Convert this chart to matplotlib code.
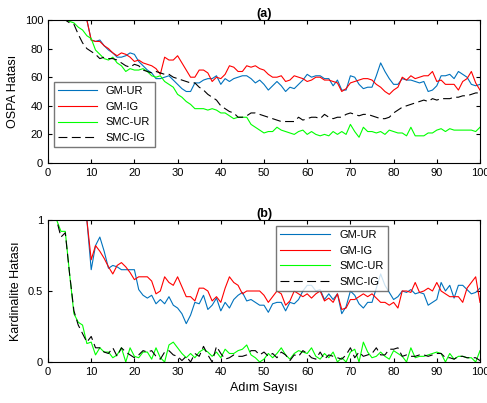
import numpy as np
import matplotlib.pyplot as plt

plt.rcParams['font.family'] = ['Liberation Sans', 'DejaVu Sans']
plt.rcParams['font.size'] = 8

steps = np.arange(0, 101)

# (a) OSPA
a_gm_ur = [100]*10 + [86,85,86,82,79,77,74,74,75,77,76,71,68,65,63,59,59,60,61,58,55,52,50,50,56,56,58,59,59,61,
    55,59,57,59,60,61,61,59,56,58,55,51,54,57,54,50,53,52,55,58,62,60,61,61,59,59,54,58,51,51,
    61,60,55,52,53,53,61,70,64,59,55,55,59,58,58,57,56,57,50,51,54,61,61,62,59,64,62,60,55,54,55]
a_gm_ig = [100]*10 + [86,85,85,82,80,77,75,77,76,74,71,72,70,69,68,66,62,74,72,72,75,70,65,60,60,65,65,63,57,60,
    59,62,68,67,64,64,68,67,68,66,65,62,60,60,61,57,58,61,60,59,57,58,60,60,58,58,57,56,50,52,
    56,57,58,59,59,58,55,53,50,48,51,53,60,58,61,59,60,61,61,64,57,58,55,55,55,51,57,59,64,56,51]
a_smc_ur = [100]*5 + [99,98,95,93,89,87,79,76,73,72,74,70,68,64,66,65,65,66,64,61,60,61,57,55,53,48,46,43,41,38,
    38,38,37,38,37,35,35,33,31,32,32,32,27,25,23,21,22,22,25,23,22,21,20,22,23,20,22,20,19,20,
    19,22,20,22,20,27,22,18,25,22,22,21,22,20,23,22,21,21,19,25,19,19,19,21,21,23,24,22,24,23,23,23,23,23,22,25]
a_smc_ig = [100]*5 + [98,97,90,84,80,78,76,73,74,73,73,72,70,68,67,69,68,65,64,63,64,63,62,62,60,59,58,57,56,56,
    53,51,48,46,44,40,38,36,35,32,32,33,35,35,34,33,32,31,30,29,29,29,29,32,30,31,32,32,31,34,
    32,31,32,32,34,35,34,33,34,34,33,32,31,31,32,35,37,39,40,41,42,43,44,43,45,44,45,45,45,46,46,47,47,48,49,49]

# (b) Kardinalite
b_gm_ur = [1]*10 + [0.65,0.82,0.88,0.78,0.66,0.68,0.67,0.65,0.65,0.65,0.65,0.51,0.47,0.45,0.47,0.41,0.44,0.41,0.46,0.40,
    0.38,0.34,0.27,0.33,0.42,0.41,0.47,0.37,0.40,0.45,0.36,0.42,0.38,0.44,0.47,0.49,0.43,0.44,0.42,0.40,
    0.40,0.35,0.41,0.42,0.42,0.36,0.42,0.41,0.44,0.50,0.54,0.54,0.50,0.51,0.44,0.48,0.44,0.48,0.34,0.39,
    0.50,0.47,0.41,0.38,0.42,0.42,0.52,0.62,0.54,0.49,0.44,0.46,0.50,0.49,0.51,0.48,0.49,0.48,0.40,0.42,
    0.44,0.56,0.50,0.54,0.45,0.54,0.54,0.51,0.48,0.49,0.52]
b_gm_ig = [1]*10 + [0.72,0.82,0.78,0.73,0.67,0.62,0.68,0.70,0.67,0.63,0.58,0.60,0.60,0.60,0.57,0.48,0.50,0.60,0.56,0.54,
    0.60,0.53,0.46,0.46,0.43,0.52,0.52,0.50,0.43,0.46,0.42,0.52,0.60,0.56,0.54,0.48,0.50,0.50,0.50,0.50,
    0.47,0.42,0.46,0.50,0.48,0.40,0.43,0.50,0.48,0.46,0.48,0.45,0.48,0.50,0.43,0.45,0.42,0.48,0.37,0.38,
    0.44,0.44,0.46,0.48,0.46,0.48,0.45,0.42,0.42,0.40,0.42,0.38,0.50,0.50,0.49,0.56,0.49,0.50,0.52,0.50,
    0.56,0.50,0.48,0.46,0.46,0.46,0.42,0.52,0.56,0.60,0.42]
b_smc_ur = [1,1,1,0.92,0.92,0.62,0.34,0.28,0.26,0.13,0.14,0.05,0.10,0.07,0.07,0.03,0.05,0.10,0.0,0.10,
    0.04,0.03,0.07,0.07,0.02,0.10,0.03,0.0,0.12,0.14,0.10,0.06,0.03,0.06,0.03,0.07,0.09,0.07,0.04,0.07,
    0.03,0.09,0.06,0.06,0.08,0.09,0.12,0.05,0.03,0.0,0.02,0.06,0.03,0.06,0.10,0.05,0.02,0.06,0.08,0.07,
    0.06,0.10,0.04,0.02,0.06,0.03,0.07,0.0,0.03,0.0,0.07,0.09,0.0,0.14,0.07,0.03,0.04,0.07,0.04,0.02,
    0.08,0.06,0.04,0.0,0.10,0.03,0.04,0.04,0.05,0.06,0.07,0.06,0.0,0.06,0.02,0.04,0.04,0.03,0.03,0.0,0.08]
b_smc_ig = [1,1,1,0.88,0.91,0.62,0.36,0.26,0.20,0.14,0.18,0.10,0.10,0.07,0.06,0.10,0.04,0.10,0.07,0.05,
    0.03,0.05,0.08,0.07,0.08,0.04,0.02,0.07,0.08,0.05,0.04,0.01,0.04,0.0,0.06,0.04,0.11,0.05,0.0,0.11,
    0.06,0.02,0.03,0.05,0.04,0.04,0.05,0.08,0.08,0.05,0.07,0.04,0.06,0.03,0.07,0.05,0.01,0.05,0.04,0.08,
    0.06,0.03,0.02,0.07,0.02,0.05,0.04,0.03,0.02,0.05,0.10,0.03,0.07,0.04,0.05,0.06,0.10,0.05,0.05,0.09,
    0.09,0.10,0.04,0.05,0.04,0.04,0.05,0.05,0.04,0.05,0.06,0.06,0.03,0.03,0.02,0.04,0.04,0.03,0.03,0.03,0.01]

labels = ['GM-UR', 'GM-IG', 'SMC-UR', 'SMC-IG']
colors = ['#0072BD', '#FF0000', '#00FF00', 'black']
styles = ['-', '-', '-', (0, (8, 4))]

fig = plt.figure(figsize=(4.87, 4.03), dpi=100)
ax1 = fig.add_axes([48/487, 1-163/403, 432/487, 143/403])
ax2 = fig.add_axes([48/487, 1-362/403, 432/487, 142/403])

for ax, series in ((ax1, [a_gm_ur, a_gm_ig, a_smc_ur, a_smc_ig]),
                   (ax2, [b_gm_ur, b_gm_ig, b_smc_ur, b_smc_ig])):
    for s, lab, c, ls in zip(series, labels, colors, styles):
        ax.plot(steps, s, color=c, linestyle=ls, lw=0.8, label=lab)
    ax.set_xlim(0, 100)
    ax.set_xticks(range(0, 101, 10))
    ax.tick_params(direction='in', length=3, top=True, right=True, labelsize=8)

ax1.set_ylim(0, 100)
ax1.set_yticks(range(0, 101, 20))
ax1.set_ylabel('OSPA Hatası', fontsize=9)
ax1.set_title('(a)', fontsize=9, fontweight='bold', pad=2)
ax1.legend(loc='lower left', bbox_to_anchor=(0.0, 0.07), fancybox=False,
           edgecolor='#555555', fontsize=8, handlelength=3.5, borderpad=0.4, labelspacing=0.5)

ax2.set_ylim(0, 1)
ax2.set_yticks([0, 0.5, 1])
ax2.set_yticklabels(['0', '0.5', '1'])
ax2.set_ylabel('Kardinalite Hatası', fontsize=9)
ax2.set_xlabel('Adım Sayısı', fontsize=9)
ax2.set_title('(b)', fontsize=9, fontweight='bold', pad=2)
ax2.legend(loc='upper left', bbox_to_anchor=(0.515, 1.0), fancybox=False,
           edgecolor='#555555', fontsize=8, handlelength=4.5, borderpad=0.4, labelspacing=0.5)

fig.savefig('out.png', dpi=100)
